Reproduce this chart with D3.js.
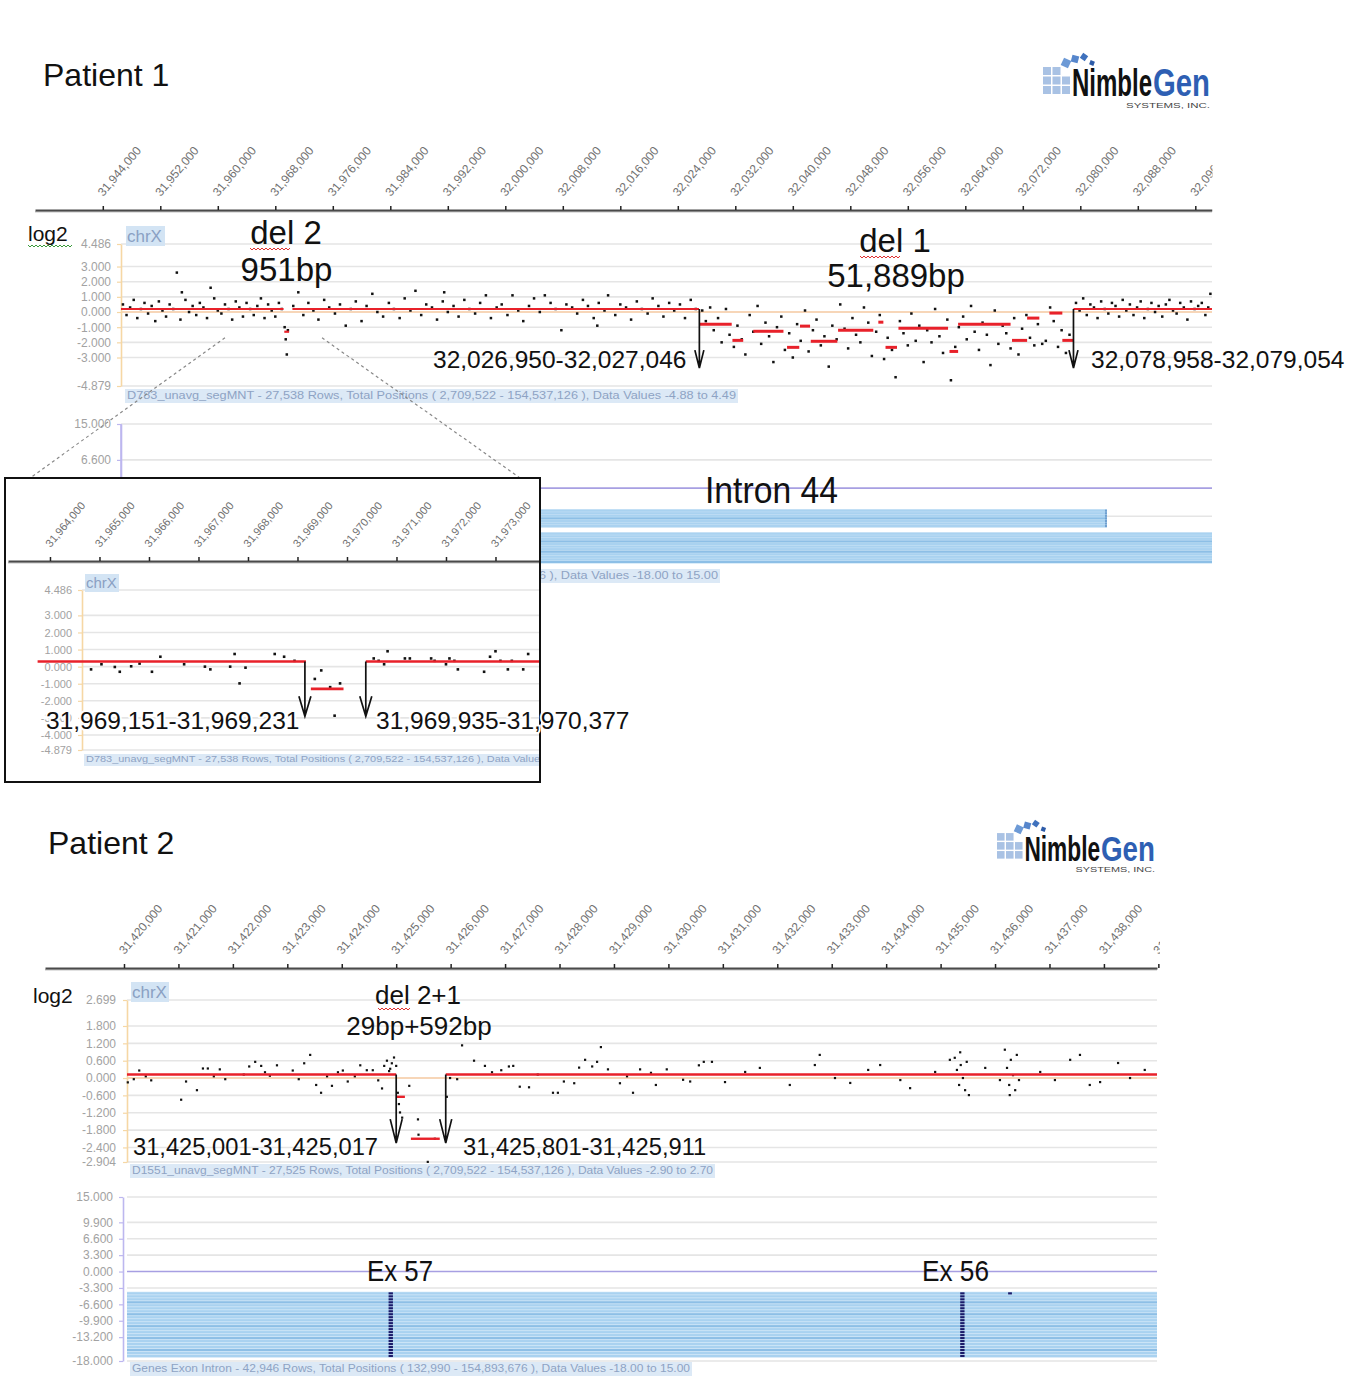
<!DOCTYPE html>
<html><head><meta charset="utf-8">
<script src="https://cdn.jsdelivr.net/npm/d3@7/dist/d3.min.js"></script>
<style>html,body{margin:0;padding:0;background:#fff}svg{display:block}</style>
</head><body><svg id="chart" width="1359" height="1379"></svg>
<script>
// ================= DATA (genomic positions in kb, values in log2 / track units) =================
const p1PosTicks = [31944,31952,31960,31968,31976,31984,31992,32000,32008,32016,32024,32032,32040,32048,32056,32064,32072,32080,32088,32096];
const insetPosTicks = [31964,31965,31966,31967,31968,31969,31970,31971,31972,31973];
const p2PosTicks = [31420,31421,31422,31423,31424,31425,31426,31427,31428,31429,31430,31431,31432,31433,31434,31435,31436,31437,31438,31439];

const p1LogTicks = [4.486,3,2,1,0,-1,-2,-3,-4.879];
const insetLogTicks = [4.486,3,2,1,0,-1,-2,-3,-4,-4.879];
const p2LogTicks = [2.699,1.8,1.2,0.6,0,-0.6,-1.2,-1.8,-2.4,-2.904];
const geneTicks = [15,9.9,6.6,3.3,0,-3.3,-6.6,-9.9,-13.2,-18];
const p1GeneTicks = [15,6.6];
const p1GeneGrid = [15,6.6,0,-6.6];

// Patient 1 probe log2 ratios [kb, log2]
const p1Probes = [
 [31946.8,0.5],[31947.3,-0.2],[31947.8,0.3],[31948.3,0.8],[31948.8,-0.4],[31949.3,0.2],[31949.8,0.6],[31950.3,-0.1],[31950.8,0.4],[31951.3,-0.6],
 [31951.8,0.7],[31952.3,0.1],[31952.8,-0.3],[31953.3,0.5],[31953.8,0.2],[31954.3,2.6],[31954.8,-0.5],[31955.0,1.3],[31955.5,0.8],[31956.0,0.0],
 [31956.5,0.4],[31957.0,-0.2],[31957.5,0.6],[31958.0,0.3],[31958.5,-0.4],[31959.0,1.6],[31959.5,0.9],[31960.0,0.1],[31960.5,-0.1],[31961.0,0.5],
 [31961.5,0.2],[31962.0,-0.5],[31962.5,0.7],[31963.0,0.3],[31963.5,-0.3],[31964.0,0.6],[31964.5,0.2],[31965.0,-0.2],[31965.5,0.4],[31966.0,0.9],
 [31966.5,-0.4],[31967.0,0.5],[31967.5,0.1],[31968.0,-0.3],[31968.5,0.6],[31968.9,0.2],
 [31969.3,-1.0],[31969.45,-1.8],[31969.6,-2.8],[31969.75,-1.2],
 [31970.5,0.4],[31971.2,1.3],[31971.9,-0.2],[31972.6,0.6],[31973.3,0.1],[31974.0,-0.5],[31974.8,0.8],[31975.5,0.3],[31976.3,-0.1],[31977.0,0.5],
 [31977.8,-0.9],[31978.5,0.2],[31979.2,0.7],[31980.0,-0.6],[31980.7,0.4],[31981.5,1.2],[31982.2,0.0],[31983.0,-0.3],[31983.8,0.6],[31984.5,0.2],
 [31985.3,-0.4],[31986.0,0.9],[31986.8,0.1],[31987.5,1.4],[31988.3,-0.2],[31989.0,0.5],[31989.8,0.3],[31990.5,-0.5],[31991.3,0.7],[31991.5,1.3],
 [31992.0,0.0],[31992.8,0.4],[31993.5,-0.3],[31994.3,0.8],[31995.0,0.2],[31995.8,-0.1],[31996.5,0.6],[31997.3,1.1],[31998.0,-0.4],[31998.8,0.3],
 [31999.5,0.5],[32000.3,-0.2],[32001.0,1.1],[32001.8,0.1],[32002.5,-0.6],[32003.3,0.4],[32004.0,0.9],[32004.8,0.0],[32005.5,1.1],[32006.3,0.6],
 [32007.0,0.2],[32007.8,-1.2],[32008.5,0.5],[32009.3,0.3],[32010.0,-0.1],[32010.8,0.8],[32011.5,0.4],[32012.3,-0.4],[32012.8,-0.9],[32013.0,0.6],
 [32013.8,0.1],[32014.3,1.1],[32015.3,-0.2],[32016.0,0.5],[32016.8,0.3],[32017.5,-0.5],[32018.3,0.7],[32019.0,0.2],[32019.8,-0.1],[32020.5,0.9],
 [32021.3,0.4],[32022.0,-0.3],[32022.8,0.6],[32023.5,0.1],[32024.3,0.5],[32025.0,-0.4],[32025.8,0.8],[32026.5,0.2],
 [32027.4,0.1],[32027.9,-0.6],[32028.5,0.3],[32029.0,-1.2],[32029.6,-0.4],[32030.1,-2.0],[32030.7,0.2],[32031.2,-1.5],[32031.8,-2.3],[32032.3,-0.9],
 [32032.9,-1.8],[32033.4,-2.8],[32034.0,-0.2],[32034.5,-1.3],[32035.1,0.4],[32035.6,-2.1],[32036.2,-0.7],[32036.7,-1.6],[32037.3,-3.3],[32037.8,-1.0],
 [32038.4,-0.3],[32038.9,-2.5],[32039.5,-1.4],[32040.0,-3.0],[32040.6,-0.8],[32041.1,-1.9],[32041.7,0.1],[32042.2,-2.6],[32042.8,-1.2],[32043.3,-0.5],
 [32043.9,-2.2],[32044.4,-1.6],[32045.0,-3.6],[32045.5,-0.9],[32046.1,-1.8],[32046.6,0.5],[32047.2,-1.1],[32047.7,-2.4],[32048.3,-0.4],[32048.8,-1.5],
 [32049.4,-2.0],[32049.9,0.3],[32050.5,-0.7],[32051.0,-2.9],[32051.6,-1.3],[32052.1,-0.2],[32052.7,-3.1],[32053.2,-1.7],[32053.8,-2.5],[32054.3,-4.3],
 [32054.9,-0.6],[32055.4,-1.4],[32056.0,-2.2],[32056.5,-0.1],[32057.1,-1.9],[32057.6,-0.9],[32058.2,-3.3],[32058.7,-1.2],[32059.3,-2.0],[32059.8,0.2],
 [32060.4,-1.6],[32060.9,-2.7],[32061.5,-0.5],[32062.0,-4.5],[32062.6,-2.3],[32063.1,-1.0],[32063.7,-0.3],[32064.2,-1.8],[32064.8,0.4],[32065.3,-1.3],
 [32065.9,-2.5],[32066.4,-0.7],[32067.0,-1.5],[32067.5,-3.5],[32068.1,0.1],[32068.6,-2.1],[32069.2,-0.9],[32069.7,-1.4],[32070.3,-2.4],[32070.8,-0.4],
 [32071.4,-2.8],[32071.9,-1.1],[32072.5,-0.2],[32073.0,-1.7],[32073.6,-2.2],[32074.1,-0.8],[32074.7,-2.1],[32075.2,-1.9],[32075.8,0.3],[32076.3,-0.6],
 [32076.9,-2.3],[32077.4,-1.2],[32078.0,-2.7],[32078.5,-1.5],
 [32079.4,0.6],[32079.9,0.1],[32080.4,0.9],[32080.9,-0.2],[32081.4,0.5],[32081.9,0.3],[32082.4,-0.4],[32082.9,0.7],[32083.4,0.2],[32083.9,-0.1],
 [32084.4,0.6],[32084.9,0.4],[32085.4,-0.3],[32085.9,0.8],[32086.4,0.1],[32086.9,0.5],[32087.4,-0.2],[32087.9,0.3],[32088.4,0.7],[32088.9,-0.4],
 [32089.4,0.2],[32089.9,0.6],[32090.4,0.0],[32090.9,0.4],[32091.4,-0.3],[32091.9,0.5],[32092.4,0.8],[32092.9,0.1],[32093.4,-0.1],[32093.9,0.6],
 [32094.4,0.3],[32094.9,-0.5],[32095.4,0.7],[32095.9,0.2],[32096.4,0.4],[32096.9,0.6],[32097.4,-0.2],[32097.8,0.3],[32098.1,1.2]
];
// Patient 1 segmentation [startKb, endKb, log2]
const p1Segments = [
 [31946.53,31969.15,0.2],[31969.25,31969.92,-1.3],[31970.38,32026.95,0.2],
 [32027.0,32031.5,-0.8],[32031.6,32033.1,-1.87],[32034.5,32038.7,-1.27],[32039.2,32040.9,-2.33],[32041.0,32042.4,-0.93],
 [32042.5,32046.2,-1.93],[32046.3,32051.2,-1.2],[32051.9,32052.6,-0.67],[32052.9,32054.5,-2.33],[32054.7,32061.6,-1.07],
 [32061.8,32063.0,-2.6],[32063.0,32070.3,-0.8],[32070.5,32072.6,-1.87],[32072.6,32074.3,-0.4],[32075.7,32077.5,-0.07],
 [32077.5,32079.0,-1.87],[32079.05,32098.32,0.2]
];
const p1Breaks = [32027.0, 32079.05];

// Inset (zoom on del 2)
const insetProbes = [
 [31964.83,-0.16],[31965.04,0.14],[31965.31,-0.02],[31965.41,-0.3],[31965.64,0.02],[31965.81,0.18],[31966.06,-0.3],[31966.23,0.58],
 [31966.71,0.14],[31967.13,0.0],[31967.24,-0.16],[31967.64,0.0],[31967.73,0.74],[31967.83,-0.98],[31967.95,-0.06],[31968.54,0.74],
 [31968.73,0.58],[31968.94,0.34],[31969.35,-0.72],[31969.48,-0.22],[31969.66,-1.2],[31969.86,-0.98],[31969.75,-2.87],[31970.54,0.48],
 [31970.64,0.34],[31970.75,0.14],[31970.82,0.9],[31971.17,0.48],[31971.27,0.48],[31971.70,0.48],[31971.77,0.34],[31972.00,0.14],
 [31972.07,0.48],[31972.17,0.34],[31972.24,-0.16],[31972.77,-0.3],[31972.89,0.58],[31973.00,0.9],[31973.10,0.34],[31973.25,-0.16],
 [31973.33,0.34],[31973.56,-0.16],[31973.66,0.74]
];
const insetSegments = [[31963.75,31969.17,0.3],[31969.27,31969.93,-1.3],[31970.38,31973.9,0.3]];
const insetBreaks = [31969.15, 31970.38];
const calloutRange = [31961.0, 31974.5];

// Patient 1 gene track rows
const p1GeneRowsA = [-5.3,-5.9,-6.5,-7.1,-7.7,-8.3,-8.9];
const p1GeneRowsB = [-10.7,-11.3,-11.9,-12.5,-13.1,-13.7,-14.3,-14.9,-15.5,-16.1,-16.7,-17.3];
const p1GeneEndA = 32083.71;

// Patient 2 probes
const p2Probes = [
 [31420.07,-0.15],[31420.18,-0.04],[31420.28,0.26],[31420.40,0.06],[31420.50,-0.08],[31421.05,-0.75],[31421.14,-0.12],[31421.34,-0.42],
 [31421.45,0.33],[31421.54,0.33],[31421.65,0.06],[31421.76,0.3],[31421.86,-0.04],[31422.20,0.12],[31422.30,0.4],[31422.41,0.56],
 [31422.52,0.42],[31422.59,0.2],[31422.68,0.08],[31422.81,0.44],[31423.10,0.26],[31423.21,-0.04],[31423.31,0.51],[31423.42,0.8],
 [31423.53,-0.24],[31423.62,-0.51],[31423.73,0.06],[31423.82,-0.27],[31423.93,0.2],[31424.02,0.26],[31424.11,-0.12],[31424.24,0.06],
 [31424.34,0.44],[31424.46,0.27],[31424.57,0.27],[31424.67,-0.08],[31424.74,-0.36],[31424.78,0.42],[31424.83,0.6],[31424.87,0.24],
 [31424.89,0.32],[31424.92,0.51],[31424.96,0.71],[31425.00,0.42],
 [31425.03,-0.51],[31425.05,-0.9],[31425.07,-1.19],[31425.11,-1.37],[31425.24,-0.27],[31425.40,-1.43],[31425.41,-1.96],[31425.58,-2.9],[31425.71,-2.1],
 [31425.93,-0.65],[31425.99,0.0],[31426.12,-0.04],[31426.21,1.13],[31426.43,0.6],[31426.63,0.42],[31426.76,0.2],[31426.93,0.27],
 [31427.07,0.4],[31427.15,0.42],[31427.27,-0.3],[31427.44,-0.32],[31427.60,0.12],[31427.88,-0.51],[31427.97,-0.51],[31428.08,-0.12],
 [31428.27,-0.18],[31428.36,0.36],[31428.47,0.63],[31428.60,0.4],[31428.69,0.56],[31428.76,1.07],[31428.89,0.3],[31429.11,-0.18],
 [31429.24,0.06],[31429.35,-0.51],[31429.48,0.3],[31429.68,0.18],[31429.77,-0.24],[31429.97,0.3],[31430.27,-0.06],[31430.40,-0.12],
 [31430.56,0.44],[31430.65,0.56],[31430.80,0.56],[31431.04,-0.14],[31431.41,0.21],[31431.68,0.35],[31432.23,-0.24],[31432.69,0.45],
 [31432.78,0.80],[31433.06,0.0],[31433.34,-0.17],[31433.67,0.28],[31433.89,0.45],[31434.26,-0.07],[31434.44,-0.35],[31434.90,0.21],
 [31435.17,0.63],[31435.26,0.70],[31435.30,0.28],[31435.34,-0.24],[31435.36,0.89],[31435.37,0.45],[31435.41,0.0],[31435.45,-0.42],
 [31435.48,0.56],[31435.52,-0.59],[31435.82,0.35],[31436.09,-0.07],[31436.18,0.98],[31436.22,0.35],[31436.26,-0.24],[31436.27,-0.59],
 [31436.29,0.63],[31436.33,0.10],[31436.37,-0.42],[31436.40,0.80],[31436.44,-0.07],[31436.83,0.21],[31437.10,-0.07],[31437.38,0.63],
 [31437.56,0.80],[31437.74,-0.24],[31437.93,-0.14],[31438.26,0.52],[31438.48,0.0],[31438.75,0.28]
];
const p2Segments = [[31420.055,31425.0,0.12],[31425.01,31425.16,-0.65],[31425.27,31425.80,-2.1],[31425.91,31438.975,0.12]];
const p2Breaks = [31425.0, 31425.91];

// Patient 2 gene track
const p2GeneRows = [-4.4,-5.0,-5.6,-6.2,-6.8,-7.4,-8.0,-8.6,-9.2,-9.8,-10.4,-11.0,-11.6,-12.2,-12.8,-13.4,-14.0,-14.6,-15.2,-15.8,-16.4,-17.0];
const p2Exons = [[31424.86,31424.94],[31435.36,31435.44]];
const p2SmallMark = [31436.24,31436.31];

// ================= DRAWING =================
const FONT = '"Liberation Sans", Arial, Helvetica, sans-serif';
const svg = d3.select("#chart");
svg.append("rect").attr("width",1359).attr("height",1379).attr("fill","#fff");
const defs = svg.append("defs");
function clip(id,x,y,w,h){defs.append("clipPath").attr("id",id).append("rect").attr("x",x).attr("y",y).attr("width",w).attr("height",h);}
clip("c1",0,100,1212.5,130); clip("c2",0,860,1160,120); clip("cin",6,479,533,302);

const loc = d3.formatLocale({decimal:".",thousands:",",grouping:[3],currency:["",""],minus:"-"});
const fmtPos = d => loc.format(",")(Math.round(d*1000));
const fmt3 = loc.format(".3f");

const p1x = d3.scaleLinear().domain([31934.567,32098.323]).range([35,1212]);
const p1y = d3.scaleLinear().domain([-4.879,4.486]).range([386,244]);
const p1gy = d3.scaleLinear().domain([-18,15]).range([565,424]);
const inx = d3.scaleLinear().domain([31963.152,31973.879]).range([8,539]);
const iny = d3.scaleLinear().domain([-4.879,4.486]).range([750,590]);
const p2x = d3.scaleLinear().domain([31418.549,31438.975]).range([45,1157]);
const p2y = d3.scaleLinear().domain([-2.904,2.699]).range([1162,1000]);
const p2gy = d3.scaleLinear().domain([-18,15]).range([1361,1197]);

function text(g,x,y,s,fs,o={}){
  const t=g.append("text").attr("x",x).attr("y",y).text(s).attr("font-size",fs)
   .attr("font-family",o.family||FONT).attr("fill",o.fill||"#111").attr("text-anchor",o.anchor||"start");
  if(o.weight) t.attr("font-weight",o.weight);
  if(o.len) t.attr("textLength",o.len).attr("lengthAdjust","spacingAndGlyphs");
  if(o.halo) t.attr("stroke","#fff").attr("stroke-width",4).attr("paint-order","stroke").attr("stroke-linejoin","round");
  return t;
}
function wavy(g,x1,x2,y,color){
  let d=`M${x1},${y}`; for(let x=x1;x<x2;x+=4) d+="l2,2l2,-2";
  g.append("path").attr("d",d).attr("fill","none").attr("stroke",color).attr("stroke-width",1);
}
function posAxis(g,scale,ticks,y,fs,clipId){
  const a=g.append("g").attr("clip-path",`url(#${clipId})`);
  a.append("line").attr("x1",scale.range()[0]).attr("x2",scale.range()[1]).attr("y1",y+1.8).attr("y2",y+1.8).attr("stroke","#c4c4c4").attr("stroke-width",1.4);
  const ax=a.append("g").attr("transform",`translate(0,${y})`)
    .call(d3.axisTop(scale).tickValues(ticks).tickSize(4).tickSizeOuter(0).tickFormat(fmtPos));
  ax.select(".domain").attr("stroke","#4a4a4a").attr("stroke-width",1.8);
  ax.selectAll(".tick line").attr("stroke","#222").attr("stroke-width",1.5);
  ax.selectAll(".tick text").attr("fill","#707070").attr("font-size",fs).attr("font-family",FONT)
    .attr("text-anchor","start").attr("x",0).attr("y",0).attr("dy",0).attr("transform","translate(0,-13) rotate(-50)");
}
function logAxis(g,scale,ticks,x,color,pad,fs){
  const ax=g.append("g").attr("transform",`translate(${x},0)`)
    .call(d3.axisLeft(scale).tickValues(ticks).tickSize(4).tickSizeOuter(0).tickPadding(pad).tickFormat(fmt3));
  ax.select(".domain").attr("stroke",color).attr("stroke-width",1.6);
  ax.selectAll(".tick line").attr("stroke",color).attr("stroke-width",1.2);
  ax.selectAll(".tick text").attr("fill","#a2a2a2").attr("font-size",fs).attr("font-family",FONT);
}
function grid(g,ys,vals,x1,x2,color,zeroColor){
  g.append("g").selectAll("line").data(vals).join("line")
   .attr("x1",x1).attr("x2",x2).attr("y1",d=>ys(d)).attr("y2",d=>ys(d))
   .attr("stroke",d=>d===0?zeroColor:color).attr("stroke-width",1.6);
}
function dots(g,data,xs,ys,sz){
  g.append("g").selectAll("rect").data(data).join("rect")
   .attr("x",d=>xs(d[0])-sz/2).attr("y",d=>ys(d[1])-sz/2).attr("width",sz).attr("height",sz).attr("fill","#111");
}
function segs(g,data,xs,ys,w){
  g.append("g").selectAll("line").data(data).join("line")
   .attr("x1",d=>xs(d[0])).attr("x2",d=>xs(d[1])).attr("y1",d=>ys(d[2])).attr("y2",d=>ys(d[2]))
   .attr("stroke","#e8212a").attr("stroke-width",w);
}
function arrow(g,x,y1,y2,hw,hh){
  g.append("path").attr("d",`M${x},${y1}V${y2}M${x-hw},${y2-hh}L${x},${y2}L${x+hw},${y2-hh}`)
   .attr("stroke","#111").attr("stroke-width",1.7).attr("fill","none");
}
function chrX(g,x,y,fs,w){
  g.append("rect").attr("x",x-1).attr("y",y-fs+1).attr("width",w).attr("height",fs+3).attr("fill","#d3e4f4");
  text(g,x,y,"chrX",fs,{fill:"#8aa0c3"});
}
function footer(g,x,y,s,fs,len){
  g.append("rect").attr("x",x-2).attr("y",y-fs+1).attr("width",len+4).attr("height",fs+3).attr("fill","#dce9f6");
  text(g,x,y,s,fs,{fill:"#8ea3c4",len:len});
}
function stripes(g,rows,xs,ys,k0,k1,light,dark){
  const x0=xs(k0), w=xs(k1)-xs(k0);
  g.append("rect").attr("x",x0).attr("width",w).attr("y",ys(rows[0])-1.7)
   .attr("height",ys(rows[rows.length-1])-ys(rows[0])+3.4).attr("fill",light);
  g.append("g").selectAll("rect").data(rows).join("rect").attr("x",x0).attr("width",w)
   .attr("y",d=>ys(d)-1.1).attr("height",2.1).attr("fill",(d,i)=>i%4===3?"#8dbfe6":dark);
}
function logo(x,y,s){
  const g=svg.append("g").attr("transform",`translate(${x},${y}) scale(${s})`);
  const cells=[[0,17],[9.5,17],[0,26.5],[9.5,26.5],[19,26.5],[0,36],[9.5,36],[19,36]];
  g.selectAll(null).data(cells).join("rect").attr("x",d=>d[0]).attr("y",d=>d[1]).attr("width",8).attr("height",8).attr("fill","#a9c2e4");
  const tilt=[[23,13,8,25,"#6d9ad6"],[32,9,7,15,"#5686cc"],[41,7,6,35,"#3f71bd"],[49,13,4.5,20,"#2d5ba8"]];
  tilt.forEach(t=>g.append("rect").attr("x",-t[2]/2).attr("y",-t[2]/2).attr("width",t[2]).attr("height",t[2]).attr("fill",t[4])
    .attr("transform",`translate(${t[0]},${t[1]}) rotate(${t[3]})`));
  const NF='"Liberation Sans Narrow","Liberation Sans",Arial,sans-serif';
  text(g,29,46,"Nimble",38,{family:NF,weight:"bold",len:80,fill:"#111"});
  text(g,110,46,"Gen",38,{family:NF,weight:"bold",len:57,fill:"#2e5fb3"});
  text(g,167,58,"SYSTEMS, INC.",8,{anchor:"end",fill:"#444",len:84});
}

// ---------- Patient 1 ----------
text(svg,43,86,"Patient 1",32);
logo(1043,50,1);
posAxis(svg,p1x,p1PosTicks,210,12,"c1");

const g1=svg.append("g");
const p1L=121, p1R=1212;
grid(g1,p1y,p1LogTicks,p1L,p1R,"#e5e5e5","#f4c9a0");
logAxis(g1,p1y,p1LogTicks,p1L,"#f6d7a4",6,12);
text(g1,28,241,"log2",21);
wavy(g1,28,72,245,"#3a9a3a");
chrX(g1,127,242,17,39);
dots(g1,p1Probes,p1x,p1y,2.5);
segs(g1,p1Segments.slice(0,3).concat(p1Segments.slice(-1)),p1x,p1y,2.2);
segs(g1,p1Segments.slice(3,-1),p1x,p1y,3);
arrow(g1,p1x(p1Breaks[0]),p1y(0.2),p1y(-3.7),4.5,18);
arrow(g1,p1x(p1Breaks[1]),p1y(0.2),p1y(-3.7),4.5,18);
text(g1,286,244,"del 2",33,{anchor:"middle"});
wavy(g1,250,290,248,"#e03030");
text(g1,286.5,281,"951bp",33,{anchor:"middle"});
text(g1,895,252,"del 1",33,{anchor:"middle"});
wavy(g1,860,900,256,"#e03030");
text(g1,896,287,"51,889bp",33,{anchor:"middle"});
text(g1,433,368,"32,026,950-32,027,046",24.5);
text(g1,1091,368,"32,078,958-32,079,054",24.5);
footer(g1,127,399,"D783_unavg_segMNT - 27,538 Rows, Total Positions ( 2,709,522 - 154,537,126 ), Data Values -4.88 to 4.49",11,609);

// genes panel patient 1
const g1g=svg.append("g");
grid(g1g,p1gy,p1GeneGrid,p1L,p1R,"#e5e5e5","#a79fe2");
logAxis(g1g,p1gy,p1GeneTicks,p1L,"#bdb7ef",6,12);
g1g.append("line").attr("x1",p1L).attr("x2",p1L).attr("y1",p1gy(15)).attr("y2",p1gy(-18)).attr("stroke","#bdb7ef").attr("stroke-width",1.6);
stripes(g1g,p1GeneRowsA,p1x,p1gy,p1x.invert(p1L),p1GeneEndA,"#cfe6f7","#a9d2f0");
g1g.append("g").selectAll("rect").data(p1GeneRowsA).join("rect").attr("x",p1x(p1GeneEndA)-2).attr("width",2)
  .attr("y",d=>p1gy(d)-1.1).attr("height",2.1).attr("fill","#6f9fcf");
stripes(g1g,p1GeneRowsB,p1x,p1gy,p1x.invert(p1L),p1x.invert(p1R),"#cfe6f7","#a9d2f0");
text(g1g,705,503,"Intron 44",36,{len:133});
footer(g1g,127,579,"Genes Exon Intron - 42,946 Rows, Total Positions ( 132,990 - 154,893,676 ), Data Values -18.00 to 15.00",11,591);

// callout lines
const cy=p1y(-1.7);
svg.append("path").attr("d",`M${p1x(calloutRange[0])},${cy}L30,478M${p1x(calloutRange[1])},${cy}L520,478`)
  .attr("stroke","#888").attr("stroke-width",1.2).attr("stroke-dasharray","3,3").attr("fill","none");

// inset
svg.append("rect").attr("x",5).attr("y",478).attr("width",535).attr("height",304).attr("fill","#fff");
const gi=svg.append("g").attr("clip-path","url(#cin)");
posAxis(gi,inx,insetPosTicks,561,11,"cin");
grid(gi,iny,insetLogTicks,82,540,"#e5e5e5","#e5e5e5");
logAxis(gi,iny,insetLogTicks,82,"#f6d7a4",6,11);
chrX(gi,86,588,15,34);
dots(gi,insetProbes,inx,iny,2.6);
segs(gi,insetSegments,inx,iny,2.6);
arrow(gi,inx(insetBreaks[0]),iny(0.3),iny(-2.9),6,20);
arrow(gi,inx(insetBreaks[1]),iny(0.3),iny(-2.9),6,20);
footer(gi,86,762,"D783_unavg_segMNT - 27,538 Rows, Total Positions ( 2,709,522 - 154,537,126 ), Data Values -4.88 to 4.49",9,524);
svg.append("rect").attr("x",5).attr("y",478).attr("width",535).attr("height",304).attr("fill","none").attr("stroke","#111").attr("stroke-width",2);
text(svg,46,729,"31,969,151-31,969,231",24.5,{halo:true});
text(svg,376,729,"31,969,935-31,970,377",24.5,{halo:true});

// ---------- Patient 2 ----------
text(svg,48,854,"Patient 2",32);
logo(997,817,0.946);
posAxis(svg,p2x,p2PosTicks,968,12,"c2");

const g2=svg.append("g");
const p2L=127, p2R=1157;
grid(g2,p2y,p2LogTicks,p2L,p2R,"#e5e5e5","#f4c9a0");
logAxis(g2,p2y,p2LogTicks,p2L,"#f6d7a4",7,12);
text(g2,33,1003,"log2",21);
chrX(g2,132,998,17,38);
dots(g2,p2Probes,p2x,p2y,2.2);
segs(g2,p2Segments,p2x,p2y,2.4);
arrow(g2,p2x(p2Breaks[0]),p2y(0.12),p2y(-2.25),6,24);
arrow(g2,p2x(p2Breaks[1]),p2y(0.12),p2y(-2.25),6,24);
text(g2,418,1004,"del 2+1",26,{anchor:"middle"});
wavy(g2,378,410,1008,"#e03030");
text(g2,419,1035,"29bp+592bp",26,{anchor:"middle"});
text(g2,133,1155,"31,425,001-31,425,017",23.7);
text(g2,463,1155,"31,425,801-31,425,911",23.7);
footer(g2,132,1174,"D1551_unavg_segMNT - 27,525 Rows, Total Positions ( 2,709,522 - 154,537,126 ), Data Values -2.90 to 2.70",11,581);

const g2g=svg.append("g");
grid(g2g,p2gy,geneTicks,p2L,p2R,"#e5e5e5","#a79fe2");
logAxis(g2g,p2gy,geneTicks,123,"#bdb7ef",6,12);
stripes(g2g,p2GeneRows,p2x,p2gy,p2x.invert(p2L),p2x.invert(p2R),"#cfe6f7","#a9d2f0");
p2Exons.forEach(e=>{
  g2g.append("g").selectAll("rect").data(p2GeneRows).join("rect").attr("x",p2x(e[0])).attr("width",p2x(e[1])-p2x(e[0]))
   .attr("y",d=>p2gy(d)-1.1).attr("height",2.1).attr("fill","#1b1b6a");
});
g2g.append("rect").attr("x",p2x(p2SmallMark[0])).attr("width",p2x(p2SmallMark[1])-p2x(p2SmallMark[0]))
  .attr("y",p2gy(p2GeneRows[0])-1.1).attr("height",2.1).attr("fill","#1b1b6a");
text(g2g,367,1281,"Ex 57",30,{len:66});
text(g2g,922,1281,"Ex 56",30,{len:67});
footer(g2g,132,1372,"Genes Exon Intron - 42,946 Rows, Total Positions ( 132,990 - 154,893,676 ), Data Values -18.00 to 15.00",11,558);
</script></body></html>
